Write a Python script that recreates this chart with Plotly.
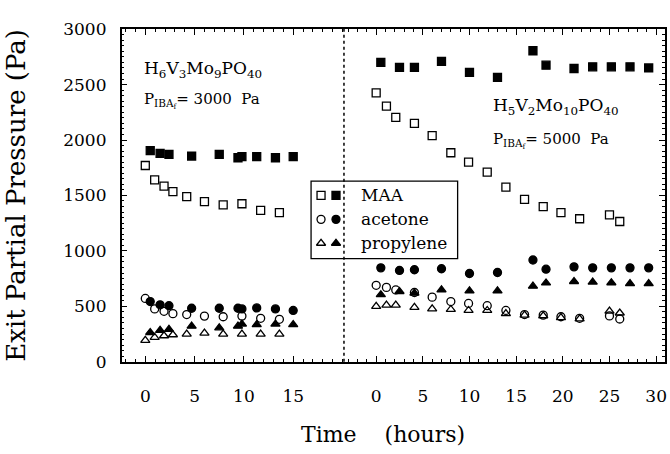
import plotly.graph_objects as go

# ---------------- data ----------------
# Left panel: H6V3Mo9PO40, P_IBA,f = 3000 Pa
left_t_open = [0, 0.95, 1.9, 2.8, 4.2, 6.0, 7.9, 9.8, 11.7, 13.6]
left_t_filled = [0.5, 1.5, 2.4, 4.7, 7.5, 9.4, 9.8, 11.3, 13.2, 15.0]
left_maa_open = [1770, 1640, 1585, 1535, 1490, 1445, 1415, 1425, 1365, 1345]
left_maa_filled = [1905, 1880, 1870, 1855, 1870, 1840, 1850, 1850, 1840, 1850]
left_acetone_open = [571, 477, 455, 434, 426, 412, 406, 412, 392, 383]
left_acetone_filled = [543, 514, 506, 483, 483, 483, 477, 486, 477, 463]
left_prop_open = [193, 221, 235, 244, 250, 258, 250, 250, 250, 250]
left_prop_filled = [264, 284, 293, 321, 306, 321, 340, 335, 340, 335]

# Right panel: H5V2Mo10PO40, P_IBA,f = 5000 Pa
right_t_open = [0, 1.1, 2.1, 4.1, 6.0, 8.0, 9.9, 11.9, 13.9, 15.9, 17.9, 19.8, 21.8, 25.0, 26.1]
right_t_filled = [0.5, 2.5, 4.1, 7.0, 10.0, 13.0, 16.8, 18.2, 21.2, 23.2, 25.2, 27.2, 29.2]
right_maa_open = [2425, 2305, 2205, 2150, 2040, 1885, 1800, 1710, 1575, 1465, 1400, 1345, 1290, 1325, 1265]
right_maa_filled = [2700, 2655, 2655, 2710, 2610, 2565, 2805, 2675, 2645, 2660, 2660, 2660, 2650]
right_acetone_open = [690, 671, 648, 625, 583, 543, 526, 506, 463, 426, 421, 406, 392, 414, 386]
right_acetone_filled = [847, 824, 830, 839, 796, 805, 918, 835, 856, 847, 847, 847, 847]
right_prop_open = [500, 511, 511, 491, 477, 472, 463, 463, 434, 421, 415, 398, 387, 457, 440]
right_prop_filled = [605, 634, 619, 648, 639, 639, 682, 711, 724, 719, 713, 705, 705]

left_xticks = [0, 5, 10, 15]
right_xticks = [0, 5, 10, 15, 20, 25, 30]
yticks = [0, 500, 1000, 1500, 2000, 2500, 3000]
legend_labels = ["MAA", "acetone", "propylene"]

# ---------------- layout constants (pixels) ----------------
W, H = 670, 454
PL, DIV, PR = 122, 345, 667
PT, PB = 20, 368
LEFT_RANGE = [-2.40, 20.15]
RIGHT_RANGE = [-3.45, 30.95]
FONT = "DejaVu Serif"


def xp(px):
    return px / W


def yp(py):
    return 1 - py / H


fig = go.Figure()

MS = 8
LW = 1.3


def add_series(x, y, symbol, xa, ya):
    fig.add_trace(go.Scatter(
        x=x, y=y, mode="markers", xaxis=xa, yaxis=ya, showlegend=False,
        marker=dict(symbol=symbol, size=MS, color="black",
                    line=dict(width=LW, color="black")),
        hoverinfo="skip"))


# left panel
add_series(left_t_open, left_maa_open, "square-open", "x", "y")
add_series(left_t_filled, left_maa_filled, "square", "x", "y")
add_series(left_t_open, left_acetone_open, "circle-open", "x", "y")
add_series(left_t_filled, left_acetone_filled, "circle", "x", "y")
add_series(left_t_open, left_prop_open, "triangle-up-open", "x", "y")
add_series(left_t_filled, left_prop_filled, "triangle-up", "x", "y")
# right panel
add_series(right_t_open, right_maa_open, "square-open", "x2", "y2")
add_series(right_t_filled, right_maa_filled, "square", "x2", "y2")
add_series(right_t_open, right_acetone_open, "circle-open", "x2", "y2")
add_series(right_t_filled, right_acetone_filled, "circle", "x2", "y2")
add_series(right_t_open, right_prop_open, "triangle-up-open", "x2", "y2")
add_series(right_t_filled, right_prop_filled, "triangle-up", "x2", "y2")

# legend keys on a pixel overlay axis
LEG_X0, LEG_X1, LEG_Y0, LEG_Y1 = 312, 459, 179, 260
LEG_OPEN_X, LEG_FILL_X, LEG_TEXT_X = 322, 337, 360
LEG_ROWS = [194, 219, 244]
open_syms = ["square-open", "circle-open", "triangle-up-open"]
fill_syms = ["square", "circle", "triangle-up"]
for row, so, sf in zip(LEG_ROWS, open_syms, fill_syms):
    add_series([LEG_OPEN_X], [row], so, "x3", "y3")
    add_series([LEG_FILL_X], [row], sf, "x3", "y3")

axis_common = dict(
    showline=True, linecolor="black", linewidth=1.5,
    ticks="inside", ticklen=6, tickwidth=1.3, tickcolor="black",
    showgrid=False, zeroline=False,
    tickfont=dict(family=FONT, size=17, color="black"),
)

fig.update_layout(
    width=W, height=H,
    margin=dict(l=0, r=0, t=0, b=0),
    paper_bgcolor="white", plot_bgcolor="rgba(0,0,0,0)",
    showlegend=False,
    xaxis=dict(domain=[xp(PL), xp(DIV)], range=LEFT_RANGE, anchor="y",
               tickmode="array", tickvals=left_xticks, mirror="allticks",
               ticklabelstandoff=18,
               minor=dict(tickmode="array", tickvals=list(range(-2, 21)),
                          ticks="inside", ticklen=3, tickwidth=1, tickcolor="black"),
               **axis_common),
    xaxis2=dict(domain=[xp(DIV), xp(PR)], range=RIGHT_RANGE, anchor="y2",
                tickmode="array", tickvals=right_xticks, mirror="allticks",
                ticklabelstandoff=18,
                minor=dict(tickmode="array", tickvals=list(range(-3, 31)),
                           ticks="inside", ticklen=3, tickwidth=1, tickcolor="black"),
                **axis_common),
    yaxis=dict(domain=[yp(PB), yp(PT)], range=[0, 3000], anchor="x",
               tickmode="array", tickvals=yticks, ticklabelstandoff=10,
               title=dict(text="Exit Partial Pressure (Pa)", standoff=30,
                          font=dict(family=FONT, size=26, color="black")),
               minor=dict(dtick=50, ticks="inside", ticklen=3, tickwidth=1, tickcolor="black"),
               **axis_common),
    yaxis2=dict(domain=[yp(PB), yp(PT)], range=[0, 3000], anchor="x2", side="right",
                tickmode="array", tickvals=yticks, showticklabels=False,
                minor=dict(dtick=50, ticks="inside", ticklen=3, tickwidth=1, tickcolor="black"),
                **axis_common),
    xaxis3=dict(domain=[0, 1], range=[0, W], anchor="y3", visible=False, fixedrange=True),
    yaxis3=dict(domain=[0, 1], range=[H, 0], anchor="x3", visible=False, fixedrange=True),
)

shapes = [
    dict(type="line", xref="paper", yref="paper", x0=xp(DIV), x1=xp(DIV),
         y0=yp(PB), y1=yp(PT), line=dict(color="black", width=1.5, dash="dot")),
    dict(type="rect", xref="paper", yref="paper", x0=xp(LEG_X0), x1=xp(LEG_X1),
         y0=yp(LEG_Y1), y1=yp(LEG_Y0), line=dict(color="black", width=1.3),
         fillcolor="white", layer="below"),
]
fig.update_layout(shapes=shapes)


def ann(text, x, y, size, xanchor="left", yanchor="middle"):
    fig.add_annotation(text=text, xref="paper", yref="paper", x=xp(x), y=yp(y),
                       xanchor=xanchor, yanchor=yanchor, showarrow=False,
                       font=dict(family=FONT, size=size, color="black"))


for row, lab in zip(LEG_ROWS, legend_labels):
    ann(lab, LEG_TEXT_X, row, 17)

ann("H<sub>6</sub>V<sub>3</sub>Mo<sub>9</sub>PO<sub>40</sub>", 142, 62, 17)
ann("P<sub>IBA<sub>f</sub></sub>= 3000  Pa", 142, 95, 15)
ann("H<sub>5</sub>V<sub>2</sub>Mo<sub>10</sub>PO<sub>40</sub>", 492, 101, 17)
ann("P<sub>IBA<sub>f</sub></sub>= 5000  Pa", 492, 137, 15)

ann("Time\u00a0\u00a0\u00a0\u00a0(hours)", 384, 444, 22, xanchor="center")

fig.write_html("out.html")
